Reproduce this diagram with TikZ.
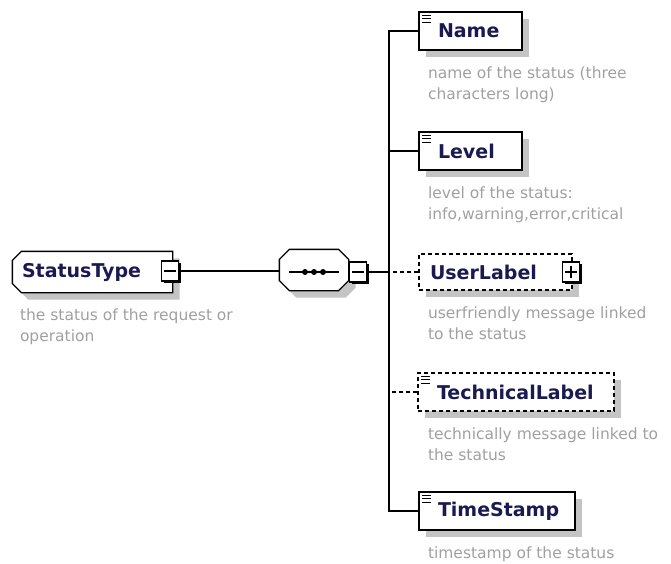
\documentclass[tikz,border=0pt]{standalone}
\usepackage{fontspec}
\setmainfont{DejaVu Sans}
\usetikzlibrary{positioning, shadows, backgrounds}
\definecolor{cnavy}{HTML}{1A1A50}
\definecolor{cdesc}{HTML}{A0A0A0}
\definecolor{cshadow}{HTML}{C4C4C4}
\tikzset{
  every picture/.style={x=1pt, y=-1pt, line width=1.3pt},
  boxshadow/.style={drop shadow={shadow xshift=7pt, shadow yshift=-7pt, fill=cshadow, opacity=1}},
  elemfont/.style={font=\fontsize{19}{22}\selectfont\bfseries, text=cnavy},
  elem/.style={elemfont, draw, fill=white, boxshadow, text width=#1, minimum height=38pt, inner xsep=0pt, inner ysep=0pt, align=left, execute at begin node={\hspace*{19pt}}},
  optelem/.style={elem=#1, dash pattern=on 4pt off 3pt},
  ctype/.style={elemfont, text width=#1, minimum height=40pt, inner sep=0pt, align=left, execute at begin node={\hspace*{9pt}}},
  octabox/.style={draw=black, line width=1.3pt, fill=white, boxshadow, line join=miter},
  desc/.style={font=\fontsize{15.5}{21}\selectfont, text=cdesc, align=left, inner sep=0pt},
  togglebox/.style={draw, fill=white, minimum width=17pt, minimum height=20pt, inner sep=0pt, line width=1.2pt, drop shadow={shadow xshift=2pt, shadow yshift=-2pt, fill=black, opacity=1}},
  link/.style={line width=1.3pt},
  optlink/.style={link, dash pattern=on 4pt off 3pt},
  iconline/.style={line width=1.1pt},
}

\begin{document}
\begin{tikzpicture}
  \useasboundingbox (0,0) rectangle (671,564);
  % complex type and its sequence
  \node[ctype=159pt] (statustype) at (92.5,272) {StatusType};
  \node[minimum width=68pt, minimum height=40pt, inner sep=0pt] (seq) at (314,270) {};
  \begin{scope}[on background layer]
    \draw[octabox] ([shift={(9,0)}]statustype.north west) -- (statustype.north east) -- (statustype.south east)
      -- ([shift={(9,0)}]statustype.south west) -- ([shift={(0,-9)}]statustype.south west)
      -- ([shift={(0,9)}]statustype.north west) -- cycle;
    \draw[octabox] ([shift={(10,0)}]seq.north west) -- ([shift={(-10,0)}]seq.north east)
      -- ([shift={(0,10)}]seq.north east) -- ([shift={(0,-10)}]seq.south east)
      -- ([shift={(-10,0)}]seq.south east) -- ([shift={(10,0)}]seq.south west)
      -- ([shift={(0,-10)}]seq.south west) -- ([shift={(0,10)}]seq.north west) -- cycle;
  \end{scope}
  \draw[line width=1.2pt] ([shift={(-25,2)}]seq.center) -- ([shift={(25,2)}]seq.center);
  \foreach \dx in {-9,0,9} \fill ([shift={(\dx,2)}]seq.center) circle (3);
  \node[desc, below right=15pt and 7pt of statustype.south west] (statusdesc) {the status of the request or\\operation};
  % child elements
  \node[elem=103pt] (name) at (470.5,31) {Name};
  \node[elem=103pt] (level) at (470.5,151) {Level};
  \node[optelem=153pt, minimum height=36pt, execute at begin node={\hspace*{-8pt}}] (userlabel) at (495.5,272) {UserLabel};
  \node[optelem=196pt] (techlabel) at (516,392) {TechnicalLabel};
  \node[elem=156pt] (timestamp) at (497,511) {TimeStamp};
  \foreach \e in {name,level,techlabel,timestamp}
    \foreach \dy in {4,7.5,11}
      \draw[iconline] ([shift={(4,\dy)}]\e.north west) -- ++(9,0);
  \node[desc, below right=15pt and 9pt of name.south west] (namedesc) {name of the status (three\\characters long)};
  \node[desc, below right=15pt and 9pt of level.south west] (leveldesc) {level of the status:\\info,warning,error,critical};
  \node[desc, below right=15pt and 9pt of userlabel.south west] (userdesc) {userfriendly message linked\\to the status};
  \node[desc, below right=15pt and 10pt of techlabel.south west] (techdesc) {technically message linked to\\the status};
  \node[desc, below right=15pt and 9pt of timestamp.south west] (timedesc) {timestamp of the status};
  % expand and collapse boxes
  \node[togglebox] (stminus) at (170,271) {};
  \node[togglebox] (seqminus) at (358,272) {};
  \node[togglebox] (ulplus) at (571,272) {};
  \foreach \t in {stminus,seqminus,ulplus}
    \draw[line width=1.2pt] ([shift={(-6,0)}]\t.center) -- ([shift={(6,0)}]\t.center);
  \draw[line width=1.2pt] ([shift={(0,-6)}]ulplus.center) -- ([shift={(0,6)}]ulplus.center);
  % connectors
  \coordinate (bus) at (389,272);
  \draw[link] (stminus.east) -- (stminus.east -| seq.west);
  \draw[link] (seqminus.east) -- (bus);
  \draw[link] (name.west) -| (bus) |- (timestamp.west);
  \draw[link] (level.west) -- (level.west -| bus);
  \draw[optlink] (userlabel.west) -- (bus);
  \draw[optlink] (techlabel.west) -- (techlabel.west -| bus);
\end{tikzpicture}
\end{document}
